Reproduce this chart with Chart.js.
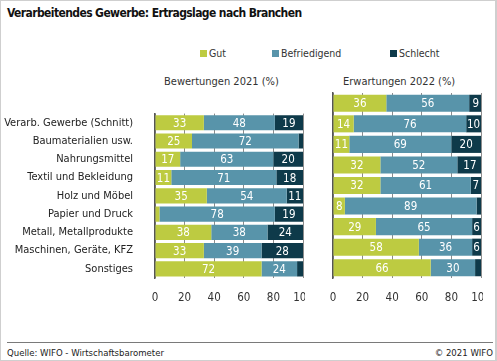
<!DOCTYPE html>
<html>
<head>
<meta charset="utf-8">
<script src="https://cdn.jsdelivr.net/npm/chart.js@4"></script>
<style>
  html, body { margin: 0; padding: 0; background: #fff; }
  body { width: 497px; height: 361px; position: relative; overflow: hidden;
         font-family: "DejaVu Sans Condensed", sans-serif; color: #222; }
  .frame { position: absolute; left: 0; top: 0; width: 494px; height: 359px; border: 1px solid #cfcfcf; border-right-width: 2px; }
  .title { position: absolute; left: 7px; top: 6px; font-size: 12px; letter-spacing: -0.6px; font-weight: bold; color: #111; }
  .legend { position: absolute; top: 47px; font-size: 10.5px; color: #333; }
  .legend span { display: inline-block; width: 7px; height: 7px; margin-right: 2px; vertical-align: 0px; }
  .ptitle { position: absolute; top: 75px; font-size: 11px; color: #333; }
  .foot { position: absolute; left: 7px; top: 342px; width: 486px; border-top: 1.5px solid #7a7a7a; }
  .src { position: absolute; top: 347px; font-size: 9.5px; color: #222; }
  canvas { position: absolute; }
</style>
</head>
<body>
<div class="frame"></div>
<div class="title">Verarbeitendes Gewerbe: Ertragslage nach Branchen</div>
<div class="legend" style="left:200px"><span style="background:#bdcb41"></span>Gut</div>
<div class="legend" style="left:272px"><span style="background:#5894aa"></span>Befriedigend</div>
<div class="legend" style="left:390px"><span style="background:#0e3a4a"></span>Schlecht</div>
<div class="ptitle" style="left:164px">Bewertungen 2021 (%)</div>
<div class="ptitle" style="left:343px">Erwartungen 2022 (%)</div>
<div style="position:absolute;left:0;top:85px;width:305px;height:223px"><canvas id="c2021"></canvas></div>
<div style="position:absolute;left:320px;top:85px;width:163px;height:223px"><canvas id="c2022"></canvas></div>
<div class="foot"></div>
<div class="src" style="left:7px">Quelle: WIFO - Wirtschaftsbarometer</div>
<div class="src" style="right:4px">© 2021 WIFO</div>
<script>
const categories = ['Verarb. Gewerbe (Schnitt)', 'Baumaterialien usw.', 'Nahrungsmittel',
  'Textil und Bekleidung', 'Holz und Möbel', 'Papier und Druck', 'Metall, Metallprodukte',
  'Maschinen, Geräte, KFZ', 'Sonstiges'];
const seriesNames = ['Gut', 'Befriedigend', 'Schlecht'];
const gut2021 = [33, 25, 17, 11, 35, 3, 38, 33, 72];
const befriedigend2021 = [48, 72, 63, 71, 54, 78, 38, 39, 24];
const schlecht2021 = [19, 3, 20, 18, 11, 19, 24, 28, 4];
const gut2022 = [36, 14, 11, 32, 32, 8, 29, 58, 66];
const befriedigend2022 = [56, 76, 69, 52, 61, 89, 65, 36, 30];
const schlecht2022 = [9, 10, 20, 17, 7, 3, 6, 6, 4];
const xTicks = [0, 20, 40, 60, 80, 100];

const colors = ['#bdcb41', '#5894aa', '#0e3a4a'];
const fontFamily = '"DejaVu Sans Condensed", sans-serif';

// white numbers inside the segments, small ones left out
const barLabels = {
    id: 'barLabels',
    afterDatasetsDraw(chart) {
        const ctx = chart.ctx;
        ctx.save();
        ctx.fillStyle = '#fff';
        ctx.font = '11.5px ' + fontFamily;
        ctx.textAlign = 'center';
        ctx.textBaseline = 'middle';
        chart.data.datasets.forEach((ds, i) => {
            chart.getDatasetMeta(i).data.forEach((bar, j) => {
                const v = ds.data[j];
                if (v < 5) return;
                ctx.fillText(v, (bar.x + bar.base) / 2, bar.y + 1);
            });
        });
        ctx.restore();
    }
};

function makeChart(id, gut, bef, schl, showLabels, yWidth) {
    return new Chart(document.getElementById(id), {
        type: 'bar',
        data: {
            labels: categories,
            datasets: [gut, bef, schl].map((d, i) => ({
                label: seriesNames[i],
                data: d,
                backgroundColor: colors[i],
                barPercentage: 0.83,
                categoryPercentage: 1
            }))
        },
        options: {
            indexAxis: 'y',
            responsive: true,
            maintainAspectRatio: false,
            animation: false,
            layout: { padding: { top: 8, right: 2, bottom: 0, left: 0 } },
            plugins: { legend: { display: false }, tooltip: { enabled: false } },
            scales: {
                x: {
                    stacked: true,
                    min: 0,
                    max: 100,
                    afterBuildTicks: (scale) => { scale.ticks = xTicks.map(v => ({ value: v })); },
                    afterFit: (scale) => {
                        scale.height = 30;
                        scale.paddingLeft = 0;
                        scale.paddingRight = 0;
                    },
                    grid: { color: '#8c8c8c', drawTicks: false, lineWidth: 1 },
                    border: { display: false },
                    ticks: { padding: 13, color: '#333', font: { family: fontFamily, size: 11.5 } }
                },
                y: {
                    stacked: true,
                    afterFit: (scale) => { scale.width = yWidth; },
                    grid: { display: false, drawTicks: false },
                    border: { display: true, color: '#555', width: 1.5 },
                    ticks: { display: showLabels, padding: 22, color: '#222', font: { family: fontFamily, size: 11 } }
                }
            }
        },
        plugins: [barLabels]
    });
}

makeChart('c2021', gut2021, befriedigend2021, schlecht2021, true, 155);
makeChart('c2022', gut2022, befriedigend2022, schlecht2022, false, 13);
</script>
</body>
</html>
